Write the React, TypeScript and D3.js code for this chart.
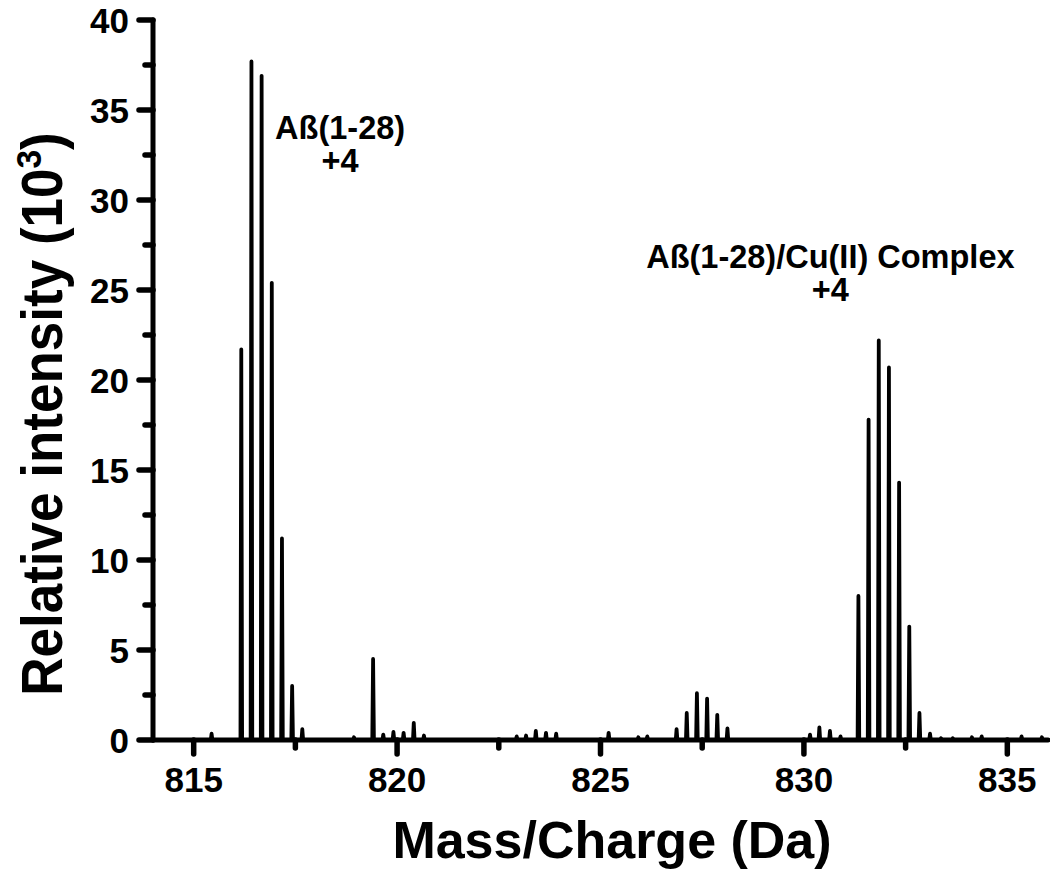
import React from "react";
import * as d3 from "d3";

// m/z (Da) of each peak, and its height (x10^3 counts)
const peakMz = [
  815.44, 816.17, 816.42, 816.67, 816.92, 817.17, 817.42, 817.67,
  818.94, 819.41, 819.66, 819.91, 820.16, 820.41, 820.66,
  822.94, 823.17, 823.41, 823.66, 823.91,
  825.2, 825.93, 826.15,
  826.87, 827.12, 827.37, 827.62, 827.87, 828.12,
  830.15, 830.38, 830.64, 830.9,
  831.34, 831.59, 831.84, 832.09, 832.34, 832.59, 832.84, 833.1,
  833.37, 833.66, 834.13, 834.37, 835.35, 835.85,
];
const peakIntensity = [
  0.35, 21.7, 37.7, 36.9, 25.4, 11.2, 3.0, 0.6,
  0.15, 4.5, 0.3, 0.45, 0.4, 0.95, 0.25,
  0.2, 0.25, 0.5, 0.4, 0.35,
  0.4, 0.15, 0.2,
  0.6, 1.5, 2.6, 2.3, 1.4, 0.65,
  0.3, 0.7, 0.5, 0.2,
  8.0, 17.8, 22.2, 20.7, 14.3, 6.3, 1.5, 0.35,
  0.1, 0.1, 0.15, 0.2, 0.2, 0.15,
];

const xDomain = [814, 836];
const yDomain = [0, 40];
const xMajorTicks = [815, 820, 825, 830, 835];
const xMinorTicks = [817.5, 822.5, 827.5, 832.5];
const yMajorTicks = [0, 5, 10, 15, 20, 25, 30, 35, 40];
const yMinorTicks = [2.5, 7.5, 12.5, 17.5, 22.5, 27.5, 32.5, 37.5];

const annotations = [
  { lines: ["Aß(1-28)", "+4"], mz: 818.6, value: 33.4 },
  { lines: ["Aß(1-28)/Cu(II) Complex", "+4"], mz: 830.65, value: 26.2 },
];

const xTitle = "Mass/Charge (Da)";
const yTitle = "Relative intensity (10";

const W = 1050;
const H = 888;
const FONT = "'Liberation Sans', Arial, Helvetica, sans-serif";

export default function App() {
  const x = d3.scaleLinear().domain(xDomain).range([153, 1048]);
  const y = d3.scaleLinear().domain(yDomain).range([740, 20]);

  const pts: [number, number][] = [[xDomain[0], 0]];
  const half = 0.02;
  peakMz.forEach((m, i) => {
    pts.push([m - half, 0], [m, peakIntensity[i]], [m + half, 0]);
  });
  pts.push([xDomain[1], 0]);
  const line = d3
    .line<[number, number]>()
    .x((d) => x(d[0]))
    .y((d) => y(d[1]));

  const x0 = x(xDomain[0]);
  const y0 = y(0);

  return (
    <svg
      width={W}
      height={H}
      style={{ position: "absolute", left: 0, top: 0, background: "#fff" }}
      fontFamily={FONT}
      fontWeight="bold"
    >
      <rect width={W} height={H} fill="#fff" />
      {/* spectrum */}
      <path
        d={line(pts) || ""}
        fill="none"
        stroke="#000"
        strokeWidth={3.8}
        strokeLinejoin="round"
        strokeLinecap="round"
      />
      {/* axes */}
      <g stroke="#000" strokeLinecap="round">
        <line x1={x0} x2={x(xDomain[1])} y1={y0} y2={y0} strokeWidth={5} />
        <line x1={x0} x2={x0} y1={y0} y2={y(yDomain[1])} strokeWidth={5} />
        {xMajorTicks.map((t) => (
          <line key={"xM" + t} x1={x(t)} x2={x(t)} y1={y0} y2={y0 + 14} strokeWidth={5.5} />
        ))}
        {xMinorTicks.map((t) => (
          <line key={"xm" + t} x1={x(t)} x2={x(t)} y1={y0} y2={y0 + 8} strokeWidth={5.5} />
        ))}
        {yMajorTicks.map((t) => (
          <line key={"yM" + t} x1={x0} x2={x0 - 14} y1={y(t)} y2={y(t)} strokeWidth={5.5} />
        ))}
        {yMinorTicks.map((t) => (
          <line key={"ym" + t} x1={x0} x2={x0 - 8} y1={y(t)} y2={y(t)} strokeWidth={5.5} />
        ))}
      </g>
      {/* tick labels */}
      <g fontSize={35} fill="#000">
        {xMajorTicks.map((t) => (
          <text key={"xl" + t} x={x(t)} y={792} textAnchor="middle">
            {t}
          </text>
        ))}
        {yMajorTicks.map((t) => (
          <text key={"yl" + t} x={129} y={y(t)} dy="0.36em" textAnchor="end">
            {t}
          </text>
        ))}
      </g>
      {/* axis titles */}
      <text x={612} y={858} fontSize={52} textAnchor="middle" fill="#000">
        {xTitle}
      </text>
      <text
        transform="translate(62,414) rotate(-90) scale(0.93,1)"
        fontSize={57}
        textAnchor="middle"
        fill="#000"
      >
        {yTitle}
        <tspan fontSize={36} dy={-21}>3</tspan>
        <tspan dy={21}>)</tspan>
      </text>
      {/* annotations */}
      {annotations.map((a, i) => (
        <text key={"an" + i} fontSize={32.5} textAnchor="middle" fill="#000">
          {a.lines.map((l, j) => (
            <tspan key={j} x={x(a.mz)} y={y(a.value) + j * 33}>
              {l}
            </tspan>
          ))}
        </text>
      ))}
    </svg>
  );
}
